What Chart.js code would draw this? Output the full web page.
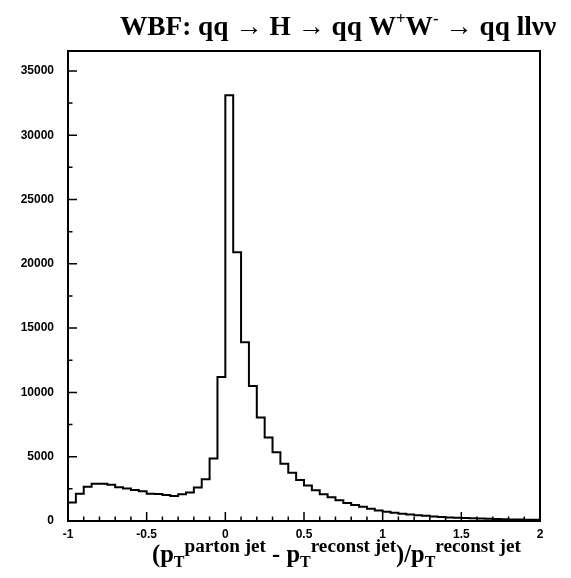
<!DOCTYPE html>
<html>
<head>
<meta charset="utf-8">
<script src="https://cdn.jsdelivr.net/npm/chart.js@4/dist/chart.umd.min.js"></script>
<style>
    body { margin: 0; background: #fff; }
    #wrap { width: 571px; height: 578px; }
</style>
</head>
<body>
<div id="wrap"><canvas id="hist" width="571" height="578"></canvas></div>
<script>
// histogram binning: 60 bins from -1 to 2
const xLow = -1;
const xHigh = 2;
const binWidth = 0.05;

// entries per bin
const counts = [
    1440, 2110, 2660, 2900, 2900, 2820, 2630, 2530, 2420, 2320,
    2110, 2100, 2030, 1950, 2080, 2210, 2600, 3250, 4870, 11200,
    33100, 20900, 13900, 10500, 8050, 6500, 5350, 4450, 3750, 3180,
    2760, 2400, 2080, 1850, 1620, 1400, 1250, 1100, 950, 820,
    720, 640, 570, 510, 450, 400, 350, 310, 280, 250,
    230, 210, 190, 170, 150, 140, 125, 115, 105, 95
];

const yMax = 36550;
const xMajor = [-1, -0.5, 0, 0.5, 1, 1.5, 2];
const yMajor = [0, 5000, 10000, 15000, 20000, 25000, 30000, 35000];

// step points at the bin left edges, plus the right edge of the last bin
const points = counts.map(function(c, i) {
    return { x: xLow + i * binWidth, y: c };
});
points.push({ x: xHigh, y: counts[counts.length - 1] });

const serif = "'Liberation Serif', 'Times New Roman', serif";

// draws [text, size, dy] pieces in a row, scaled so the row is `width` wide
function drawRich(ctx, segs, x, y, width) {
    let w = 0;
    segs.forEach(function(s) {
        ctx.font = 'bold ' + s[1] + 'px ' + serif;
        w += ctx.measureText(s[0]).width;
    });
    const k = width / w;
    let cx = x;
    segs.forEach(function(s) {
        ctx.font = 'bold ' + (s[1] * k).toFixed(1) + 'px ' + serif;
        ctx.fillText(s[0], cx, y + s[2]);
        cx += ctx.measureText(s[0]).width;
    });
}

const framePlugin = {
    id: 'frame',
    afterDraw: function(chart) {
        const ctx = chart.ctx;
        const a = chart.chartArea;
        const xs = chart.scales.x, ys = chart.scales.y;
        ctx.save();
        ctx.strokeStyle = '#000';
        ctx.lineWidth = 2;
        ctx.strokeRect(a.left, a.top, a.right - a.left, a.bottom - a.top);

        // inward tick marks
        ctx.lineWidth = 1.5;
        ctx.beginPath();
        for (let i = 0; i <= 30; i++) {
            const px = xs.getPixelForValue(xLow + i * 0.1);
            const len = (i % 5 === 0) ? 9 : 4.5;
            ctx.moveTo(px, a.bottom);
            ctx.lineTo(px, a.bottom - len);
        }
        for (let v = 0; v <= 35000; v += 2500) {
            const py = ys.getPixelForValue(v);
            const len = (v % 5000 === 0) ? 9 : 4.5;
            ctx.moveTo(a.left, py);
            ctx.lineTo(a.left + len, py);
        }
        ctx.stroke();

        // titles
        ctx.fillStyle = '#000';
        ctx.textBaseline = 'alphabetic';
        ctx.textAlign = 'left';
        drawRich(ctx, [
            ['WBF: qq \u2192 H \u2192 qq W', 26, 0],
            ['+', 16, -11],
            ['W', 26, 0],
            ['-', 16, -11],
            [' \u2192 qq ll\u03BD\u03BD', 26, 0]
        ], 120, 35, 436);
        drawRich(ctx, [
            ['(p', 23, 0], ['T', 15, 5], ['parton jet', 18, -10],
            [' - p', 23, 0], ['T', 15, 5], ['reconst jet', 18, -10],
            [')/p', 23, 0], ['T', 15, 5], ['reconst jet', 18, -10]
        ], 152, 562, 369);
        ctx.restore();
    }
};

const tickFont = { family: "'Liberation Sans', Arial, sans-serif", size: 12, weight: 'bold' };

new Chart(document.getElementById('hist'), {
    type: 'line',
    data: {
        datasets: [{
            data: points,
            stepped: true,
            borderColor: '#000',
            borderWidth: 2,
            pointRadius: 0,
            fill: false
        }]
    },
    options: {
        responsive: false,
        animation: false,
        layout: { padding: { top: 51, right: 31, left: 0, bottom: 0 } },
        plugins: { legend: { display: false }, tooltip: { enabled: false } },
        scales: {
            x: {
                type: 'linear',
                min: xLow,
                max: xHigh,
                grid: { display: false, drawTicks: false },
                border: { display: false },
                afterBuildTicks: function(s) { s.ticks = xMajor.map(function(v) { return { value: v }; }); },
                afterFit: function(s) { s.height = 57; },
                ticks: { color: '#000', font: tickFont, padding: 6, maxRotation: 0, autoSkip: false,
                    callback: function(v) { return String(v); } }
            },
            y: {
                min: 0,
                max: yMax,
                grid: { display: false, drawTicks: false },
                border: { display: false },
                afterBuildTicks: function(s) { s.ticks = yMajor.map(function(v) { return { value: v }; }); },
                afterFit: function(s) { s.width = 68; },
                ticks: { color: '#000', font: tickFont, padding: 14, autoSkip: false,
                    callback: function(v) { return String(v); } }
            }
        }
    },
    plugins: [framePlugin]
});
</script>
</body>
</html>
